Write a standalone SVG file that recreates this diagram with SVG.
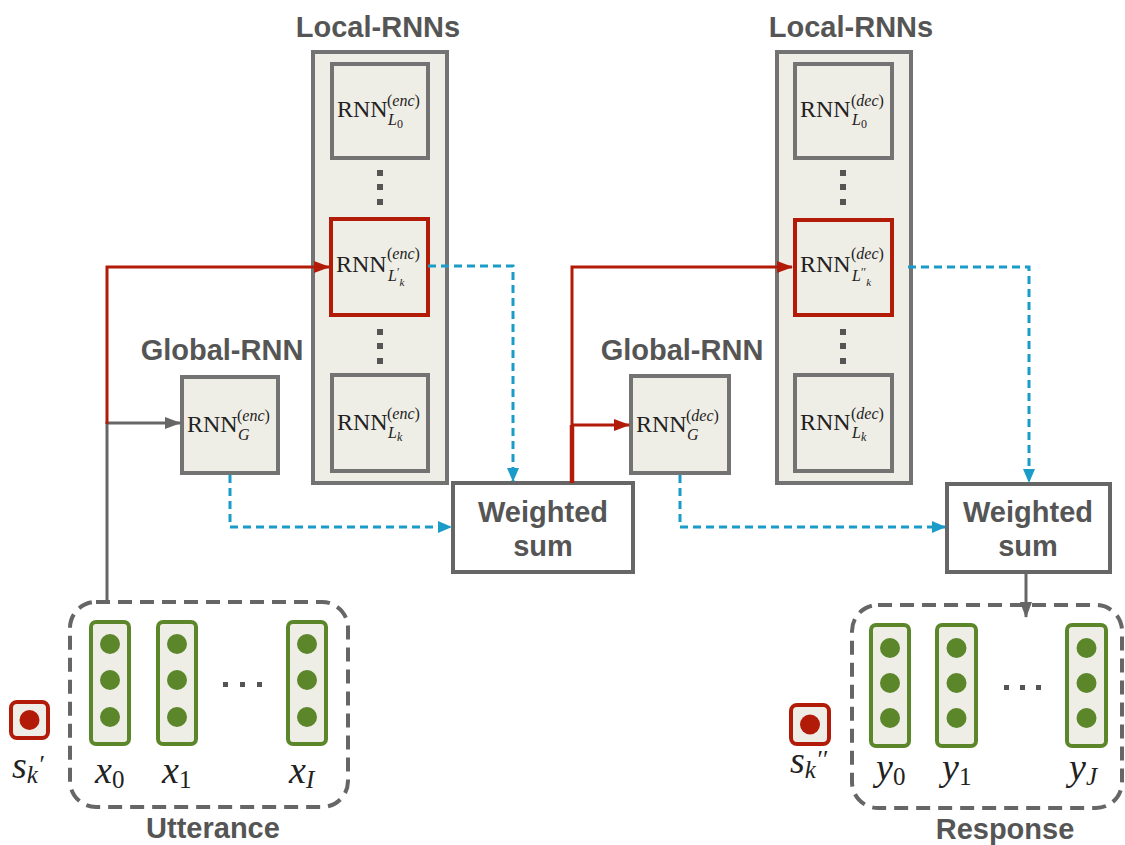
<svg xmlns="http://www.w3.org/2000/svg" width="1125" height="845" viewBox="0 0 1125 845">
<style>
.bg{fill:#ffffff}
.outer{fill:#efeee6;stroke:#737373;stroke-width:4}
.inner{fill:#efeee6;stroke:#737373;stroke-width:4}
.redbox{fill:#efeee6;stroke:#b31b09;stroke-width:4}
.ws{fill:#ffffff;stroke:#666666;stroke-width:4}
.title{font-family:"Liberation Sans",Arial,sans-serif;font-weight:bold;font-size:29px;fill:#555555;text-anchor:middle}
.rnn{font-family:"Liberation Serif","Times New Roman",serif;font-size:24px;fill:#222222}
.sup{font-family:"Liberation Serif","Times New Roman",serif;font-size:16px;fill:#222222}
.sub{font-family:"Liberation Serif","Times New Roman",serif;font-size:16px;font-style:italic;fill:#222222}
.math{font-family:"Liberation Serif","Times New Roman",serif;font-size:38px;font-style:italic;fill:#222222}
.mathsub{font-family:"Liberation Serif","Times New Roman",serif;font-size:25px;fill:#222222}
.vec{fill:#efeee6;stroke:#5b862a;stroke-width:4}
.dot{fill:#5b862a}
.sbox{fill:#efeee6;stroke:#b31b09;stroke-width:4}
.sdot{fill:#b31b09}
.grp{fill:none;stroke:#666666;stroke-width:4;stroke-dasharray:14 8}
.vd{fill:#555555}
.blue{fill:none;stroke:#1a9cc9;stroke-width:3;stroke-dasharray:8 5}
.red{fill:none;stroke:#b31b09;stroke-width:3}
.gray{fill:none;stroke:#666666;stroke-width:3}
</style>
<defs>
<marker id="ab" markerUnits="userSpaceOnUse" markerWidth="14" markerHeight="14" viewBox="0 0 14 14" refX="13" refY="7" orient="auto"><path d="M0,1 L14,7 L0,13 Z" fill="#1a9cc9"/></marker>
<marker id="ar" markerUnits="userSpaceOnUse" markerWidth="16" markerHeight="14" viewBox="0 0 16 14" refX="15" refY="7" orient="auto"><path d="M0,1 L16,7 L0,13 Z" fill="#b31b09"/></marker>
<marker id="ag" markerUnits="userSpaceOnUse" markerWidth="16" markerHeight="14" viewBox="0 0 16 14" refX="15" refY="7" orient="auto"><path d="M0,1 L16,7 L0,13 Z" fill="#666666"/></marker>
</defs>
<rect class="bg" x="0" y="0" width="1125" height="845"/>

<!-- Local RNNs encoder -->
<g id="local-enc">
<text class="title" x="378" y="37">Local-RNNs</text>
<rect class="outer" x="313" y="52" width="134" height="431"/>
<g id="enc-L0">
<rect class="inner" x="332" y="64" width="96" height="94"/>
<text class="rnn" x="337" y="117">RNN</text>
<text class="sup" x="387" y="106">(<tspan font-style="italic">enc</tspan>)</text>
<text class="sub" x="388" y="125">L<tspan font-style="normal" font-size="12" dy="3">0</tspan></text>
</g>
<rect class="vd" x="377" y="170" width="6" height="6"/>
<rect class="vd" x="377" y="184" width="6" height="6"/>
<rect class="vd" x="377" y="199" width="6" height="6"/>
<g id="enc-Lk1">
<rect class="redbox" x="331" y="219" width="97" height="96"/>
<text class="rnn" x="336" y="272">RNN</text>
<text class="sup" x="387" y="259">(<tspan font-style="italic">enc</tspan>)</text>
<text class="sub" x="388" y="281">L<tspan font-style="normal" font-size="12" dy="-5">′</tspan><tspan font-size="11" dy="10">k</tspan></text>
</g>
<rect class="vd" x="377" y="329" width="6" height="6"/>
<rect class="vd" x="377" y="343" width="6" height="6"/>
<rect class="vd" x="377" y="358" width="6" height="6"/>
<g id="enc-Lk">
<rect class="inner" x="332" y="375" width="96" height="96"/>
<text class="rnn" x="337" y="430">RNN</text>
<text class="sup" x="387" y="419">(<tspan font-style="italic">enc</tspan>)</text>
<text class="sub" x="388" y="438">L<tspan font-size="12" dy="3">k</tspan></text>
</g>
</g>

<!-- Local RNNs decoder -->
<g id="local-dec">
<text class="title" x="851" y="37">Local-RNNs</text>
<rect class="outer" x="777" y="52" width="134" height="431"/>
<g id="dec-L0">
<rect class="inner" x="795" y="64" width="97" height="94"/>
<text class="rnn" x="800" y="117">RNN</text>
<text class="sup" x="851" y="106">(<tspan font-style="italic">dec</tspan>)</text>
<text class="sub" x="852" y="125">L<tspan font-style="normal" font-size="12" dy="3">0</tspan></text>
</g>
<rect class="vd" x="840" y="170" width="6" height="6"/>
<rect class="vd" x="840" y="184" width="6" height="6"/>
<rect class="vd" x="840" y="199" width="6" height="6"/>
<g id="dec-Lk2">
<rect class="redbox" x="795" y="220" width="97" height="95"/>
<text class="rnn" x="800" y="272">RNN</text>
<text class="sup" x="851" y="259">(<tspan font-style="italic">dec</tspan>)</text>
<text class="sub" x="852" y="281">L<tspan font-style="normal" font-size="12" dy="-5">′′</tspan><tspan font-size="11" dy="10">k</tspan></text>
</g>
<rect class="vd" x="840" y="329" width="6" height="6"/>
<rect class="vd" x="840" y="343" width="6" height="6"/>
<rect class="vd" x="840" y="358" width="6" height="6"/>
<g id="dec-Lk">
<rect class="inner" x="795" y="375" width="97" height="96"/>
<text class="rnn" x="800" y="430">RNN</text>
<text class="sup" x="851" y="419">(<tspan font-style="italic">dec</tspan>)</text>
<text class="sub" x="852" y="438">L<tspan font-size="12" dy="3">k</tspan></text>
</g>
</g>

<!-- Global RNN encoder -->
<g id="global-enc">
<text class="title" x="222" y="360">Global-RNN</text>
<rect class="inner" x="182" y="377" width="96" height="96"/>
<text class="rnn" x="187" y="432">RNN</text>
<text class="sup" x="237" y="421">(<tspan font-style="italic">enc</tspan>)</text>
<text class="sub" x="238" y="440">G</text>
</g>

<!-- Global RNN decoder -->
<g id="global-dec">
<text class="title" x="682" y="360">Global-RNN</text>
<rect class="inner" x="631" y="376" width="98" height="97"/>
<text class="rnn" x="636" y="432">RNN</text>
<text class="sup" x="686" y="421">(<tspan font-style="italic">dec</tspan>)</text>
<text class="sub" x="687" y="440">G</text>
</g>

<!-- Weighted sums -->
<g id="ws-enc">
<rect class="ws" x="453" y="483" width="180" height="89"/>
<text class="title" x="543" y="522">Weighted</text>
<text class="title" x="543" y="556">sum</text>
</g>
<g id="ws-dec">
<rect class="ws" x="947" y="484" width="163" height="88"/>
<text class="title" x="1028" y="522">Weighted</text>
<text class="title" x="1028" y="556">sum</text>
</g>

<!-- Utterance -->
<g id="utterance">
<rect class="grp" x="70" y="602" width="278" height="205" rx="26"/>
<rect class="vec" x="91" y="622" width="38" height="122" rx="5"/>
<circle class="dot" cx="110" cy="644" r="10"/><circle class="dot" cx="110" cy="680" r="10"/><circle class="dot" cx="110" cy="717" r="10"/>
<rect class="vec" x="158" y="622" width="38" height="122" rx="5"/>
<circle class="dot" cx="177" cy="644" r="10"/><circle class="dot" cx="177" cy="680" r="10"/><circle class="dot" cx="177" cy="717" r="10"/>
<rect class="vec" x="288" y="622" width="38" height="122" rx="5"/>
<circle class="dot" cx="307" cy="644" r="10"/><circle class="dot" cx="307" cy="680" r="10"/><circle class="dot" cx="307" cy="717" r="10"/>
<rect class="vd" x="223" y="682" width="5" height="5"/><rect class="vd" x="240" y="682" width="5" height="5"/><rect class="vd" x="257" y="682" width="5" height="5"/>
<text class="math" x="95" y="783">x<tspan class="mathsub" font-style="normal" dy="5">0</tspan></text>
<text class="math" x="162" y="783">x<tspan class="mathsub" font-style="normal" dy="5">1</tspan></text>
<text class="math" x="289" y="783">x<tspan class="mathsub" font-style="italic" dy="5">I</tspan></text>
<text class="title" x="213" y="838">Utterance</text>
</g>
<g id="s-enc">
<rect class="sbox" x="11" y="702" width="37" height="36" rx="6"/>
<circle class="sdot" cx="29.5" cy="720" r="10"/>
<text class="math" x="12" y="778">s<tspan class="mathsub" font-style="italic" dy="5">k</tspan><tspan class="mathsub" font-size="18" dy="-10">′</tspan></text>
</g>

<!-- Response -->
<g id="response">
<rect class="grp" x="852" y="605" width="270" height="203" rx="26"/>
<rect class="vec" x="871" y="625" width="38" height="121" rx="5"/>
<circle class="dot" cx="890" cy="648" r="10"/><circle class="dot" cx="890" cy="683" r="10"/><circle class="dot" cx="890" cy="718" r="10"/>
<rect class="vec" x="937" y="625" width="39" height="121" rx="5"/>
<circle class="dot" cx="956.5" cy="648" r="10"/><circle class="dot" cx="956.5" cy="683" r="10"/><circle class="dot" cx="956.5" cy="718" r="10"/>
<rect class="vec" x="1067" y="625" width="39" height="121" rx="5"/>
<circle class="dot" cx="1086.5" cy="648" r="10"/><circle class="dot" cx="1086.5" cy="683" r="10"/><circle class="dot" cx="1086.5" cy="718" r="10"/>
<rect class="vd" x="1004" y="685" width="5" height="5"/><rect class="vd" x="1020" y="685" width="5" height="5"/><rect class="vd" x="1036" y="685" width="5" height="5"/>
<text class="math" x="876" y="780">y<tspan class="mathsub" font-style="normal" dy="5">0</tspan></text>
<text class="math" x="942" y="780">y<tspan class="mathsub" font-style="normal" dy="5">1</tspan></text>
<text class="math" x="1069" y="780">y<tspan class="mathsub" font-style="italic" dy="5">J</tspan></text>
<text class="title" x="1005" y="839">Response</text>
</g>
<g id="s-dec">
<rect class="sbox" x="791" y="705" width="38" height="39" rx="6"/>
<circle class="sdot" cx="810" cy="724.5" r="10"/>
<text class="math" x="790" y="773">s<tspan class="mathsub" font-style="italic" dy="5">k</tspan><tspan class="mathsub" font-size="18" dy="-10">′′</tspan></text>
</g>

<!-- Connectors -->
<g id="connectors">
<polyline class="gray" points="107,603 107,423 180,423" marker-end="url(#ag)"/>
<polyline class="red" points="107,424 107,267 329,267" marker-end="url(#ar)"/>
<polyline class="blue" points="428,266 513,266 513,481" marker-end="url(#ab)"/>
<polyline class="blue" points="230,475 230,527 451,527" marker-end="url(#ab)"/>
<polyline class="red" points="572,483 572,267 792,267" marker-end="url(#ar)"/>
<line x1="572" y1="483" x2="572" y2="425" stroke="#b31b09" stroke-width="4.5"/>
<polyline class="red" points="572,425 629,425" marker-end="url(#ar)"/>
<polyline class="blue" points="908,267 1029,267 1029,482" marker-end="url(#ab)"/>
<polyline class="blue" points="680,475 680,527 945,527" marker-end="url(#ab)"/>
<polyline class="gray" points="1026,572 1026,617" marker-end="url(#ag)"/>
</g>
</svg>
